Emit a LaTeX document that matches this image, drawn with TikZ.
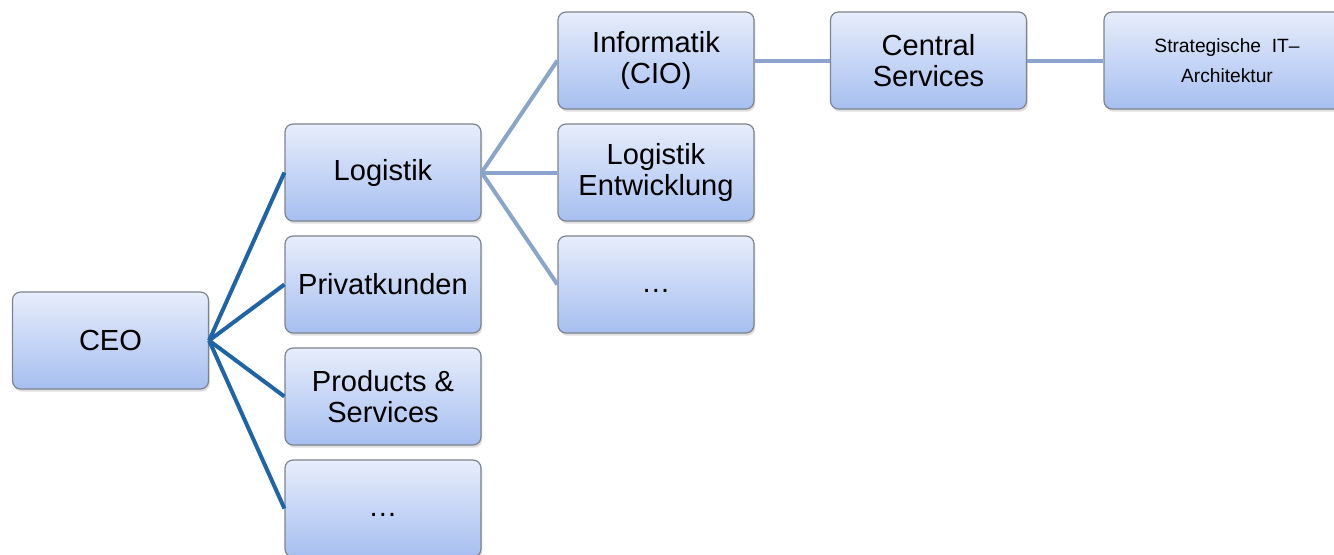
\documentclass[tikz,border=0pt]{standalone}
\usepackage{fontspec}
\setmainfont{Liberation Sans}
\usetikzlibrary{shadows}
\definecolor{boxtop}{RGB}{231,237,251}
\definecolor{boxbot}{RGB}{166,191,240}
\definecolor{boxline}{RGB}{125,132,142}
\definecolor{linkdark}{RGB}{30,100,166}
\definecolor{linklight}{RGB}{138,164,203}
\newcommand{\moreunits}{\raisebox{-6pt}[0pt][0pt]{…}}
\tikzset{
  unit/.style={rounded corners=6pt, draw=boxline, line width=0.9pt,
    top color=boxtop, bottom color=boxbot,
    minimum width=147pt, minimum height=72.75pt, inner sep=2pt,
    align=center, font=\fontsize{21.8}{23.5}\selectfont,
    drop shadow={opacity=0.25, shadow xshift=1pt, shadow yshift=-2pt}},
  smallunit/.style={unit, minimum width=184.5pt, font=\fontsize{14.4}{22}\selectfont},
  toplink/.style={draw=linkdark, line width=3pt},
  sublink/.style={draw=linklight, line width=3pt},
}
\begin{document}
\begin{tikzpicture}[x=0.75pt, y=-0.75pt]
\useasboundingbox (0,0) rectangle (1334,554);
\clip (0,0) rectangle (1334,554);

% organisation units
\node[unit] (ceo)  at (110.5,340.5) {CEO};
\node[unit] (log)  at (383,172.5) {Logistik};
\node[unit] (priv) at (383,284.5) {Privatkunden};
\node[unit] (prod) at (383,396.5) {Products \&\\Services};
\node[unit] (more) at (383,508.5) {\moreunits};
\node[unit] (info) at (656,60.5) {Informatik\\(CIO)};
\node[unit] (lent) at (656,172.5) {Logistik\\Entwicklung};
\node[unit] (lmore) at (656,284.5) {\moreunits};
\node[unit] (cs)   at (928.5,60.5) {Central\\Services};
\node[smallunit] (sita) at (1227,60.5) {Strategische\ \ IT–\\Architektur};

% reporting lines
\foreach \t in {log,priv,prod,more} \draw[toplink] (ceo.east) -- (\t.west);
\foreach \t in {info,lent,lmore} \draw[sublink] (log.east) -- (\t.west);
\draw[sublink] (info.east) -- (cs.west);
\draw[sublink] (cs.east) -- (sita.west);
\end{tikzpicture}
\end{document}
